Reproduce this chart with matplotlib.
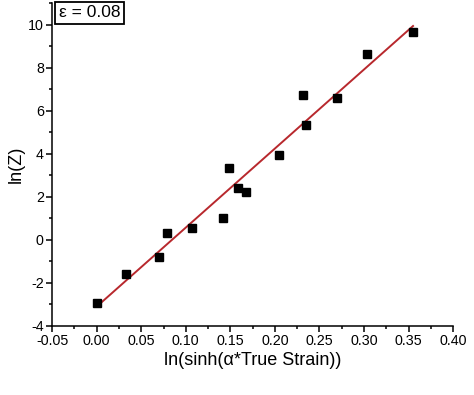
import numpy as np
import matplotlib
matplotlib.use("Agg")
import matplotlib.pyplot as plt
from matplotlib.ticker import MultipleLocator

x_vals = [0.000, 0.033, 0.070, 0.079, 0.107, 0.142, 0.149, 0.159, 0.168,
          0.205, 0.231, 0.235, 0.270, 0.303, 0.355]
y_vals = [-2.92, -1.58, -0.79, 0.34, 0.54, 1.01, 3.32, 2.43, 2.23,
          3.96, 6.72, 5.32, 6.61, 8.66, 9.66]
x_ticks = [-0.05, 0.00, 0.05, 0.10, 0.15, 0.20, 0.25, 0.30, 0.35, 0.40]
y_ticks = [-4, -2, 0, 2, 4, 6, 8, 10]
label_text = "ε = 0.08"

plt.rcParams['font.family'] = ['Liberation Sans', 'DejaVu Sans']
plt.rcParams['axes.unicode_minus'] = False

fig = plt.figure(figsize=(4.74, 3.95), dpi=100)
ax = fig.add_axes([0.110, 0.175, 0.846, 0.817])

xa = np.array(x_vals)
ya = np.array(y_vals)
slope, intercept = np.polyfit(xa, ya, 1)
xl = np.array([xa.min(), xa.max()])
ax.plot(xl, slope * xl + intercept, color='#b8282d', lw=1.4, zorder=2)
ax.plot(xa, ya, 's', color='black', markersize=5.5, zorder=3)

ax.set_xlim(-0.05, 0.40)
ax.set_ylim(-4, 11)
ax.set_xticks(x_ticks)
ax.set_xticklabels([f"{t:.2f}" for t in x_ticks])
ax.set_yticks(y_ticks)
ax.set_yticklabels([str(t) for t in y_ticks])
ax.xaxis.set_minor_locator(MultipleLocator(0.025))
ax.yaxis.set_minor_locator(MultipleLocator(1))
for s in ['top', 'right']:
    ax.spines[s].set_visible(False)
for s in ['left', 'bottom']:
    ax.spines[s].set_linewidth(1.1)
ax.tick_params(which='major', direction='out', length=4, width=1.1, labelsize=10.3, pad=2)
ax.tick_params(which='minor', direction='out', length=2.5, width=1.1)

ax.set_xlabel("ln(sinh(α*True Strain))", fontsize=13, labelpad=3)
ax.set_ylabel("ln(Z)", fontsize=13, labelpad=2)

ax.text(0.016, 0.993, label_text, transform=ax.transAxes, fontsize=12.5,
        va='top', ha='left',
        bbox=dict(boxstyle='square,pad=0.2', facecolor='white', edgecolor='black', lw=1.3))

fig.savefig("out.png", dpi=100)
